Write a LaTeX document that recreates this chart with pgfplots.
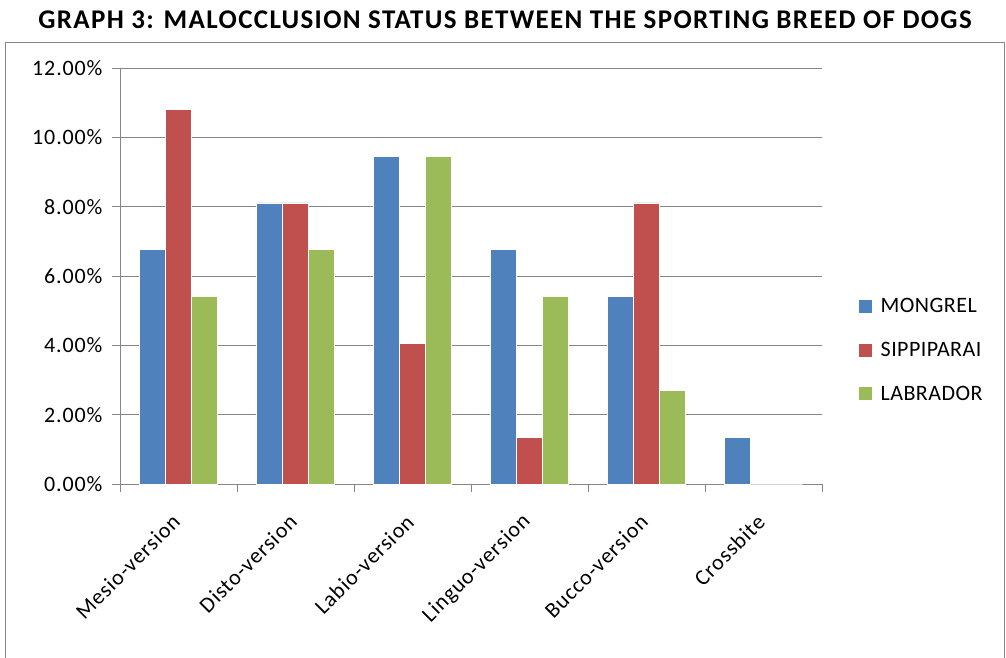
\documentclass[border=0pt]{standalone}
\usepackage{fontspec}
\setmainfont{Carlito}
\usepackage{pgfplots}
\pgfplotsset{compat=1.18}
\definecolor{mongrel}{HTML}{4F81BD}
\definecolor{sippi}{HTML}{C0504D}
\definecolor{labra}{HTML}{9BBB59}
\definecolor{frame}{HTML}{868686}
\newcommand{\chartfont}{\fontsize{22}{26}\selectfont\addfontfeature{LetterSpace=4}}
\begin{document}
\begin{tikzpicture}[x=1pt,y=1pt]
\useasboundingbox (0,0) rectangle (1006,657);
\draw[frame, line width=0.8pt] (5,-2) -- (5,615) -- (1004,615) -- (1004,-2);
\node[font=\fontsize{27}{31}\selectfont\bfseries\addfontfeature{LetterSpace=5}] at (505,637) {GRAPH 3: MALOCCLUSION STATUS BETWEEN THE SPORTING BREED OF DOGS};
\begin{axis}[
  at={(120pt,173pt)}, anchor=south west,
  scale only axis, width=702pt, height=416pt,
  ybar=0pt, bar width=26pt,
  xmin=-0.5, xmax=5.5, ymin=0, ymax=12,
  axis lines*=left,
  axis line style={frame, line width=0.8pt},
  ytick={0,2,...,12},
  yticklabel={\pgfmathprintnumber[fixed,fixed zerofill,precision=2]{\tick}\%},
  /pgf/number format/assume math mode=true,
  ymajorgrids, grid style={frame, line width=0.8pt},
  xtick={0,...,5},
  xticklabels={Mesio-version,Disto-version,Labio-version,Linguo-version,Bucco-version,Crossbite},
  minor xtick={-0.5,0.5,...,5.5},
  major x tick style={draw=none},
  tick align=outside, major tick length=8pt, minor tick length=8pt,
  tick style={frame, line width=0.8pt},
  xticklabel style={rotate=45, anchor=east},
  xticklabel shift=24pt,
  yticklabel shift=6pt,
  ticklabel style={font=\chartfont},
  legend style={at={(1.052,0.322)}, anchor=west, draw=none, fill=none,
    font=\fontsize{22}{26}\selectfont\addfontfeature{LetterSpace=2}, row sep=24pt, inner sep=0pt,
    /tikz/every odd column/.append style={column sep=7pt}},
  legend cell align=left,
  legend image code/.code={\fill[#1, draw=none] (0pt,-6.5pt) rectangle (13pt,6.5pt);},
  every axis plot/.append style={draw=white, line width=0.6pt},
]
\addplot[fill=mongrel] coordinates {(0,6.76) (1,8.11) (2,9.46) (3,6.76) (4,5.41) (5,1.35)};
\addplot[fill=sippi] coordinates {(0,10.81) (1,8.11) (2,4.05) (3,1.35) (4,8.11) (5,0)};
\addplot[fill=labra] coordinates {(0,5.41) (1,6.76) (2,9.46) (3,5.41) (4,2.70) (5,0)};
\legend{MONGREL,SIPPIPARAI,LABRADOR}
\end{axis}
\end{tikzpicture}
\end{document}
